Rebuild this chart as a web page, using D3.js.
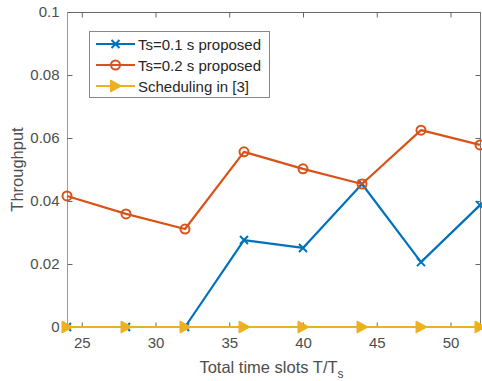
<!DOCTYPE html>
<html><head><meta charset="utf-8">
<script src="https://cdn.jsdelivr.net/npm/d3@7"></script>
<style>body{margin:0;background:#fff}svg{display:block;font-family:"Liberation Sans",Arial,sans-serif}</style>
</head><body><svg id="c" width="482" height="381"></svg>
<script>
const slots = [24, 28, 32, 36, 40, 44, 48, 52];
const ts01 = [0, 0, 0, 0.0276, 0.0251, 0.0454, 0.0206, 0.0387];
const ts02 = [0.0416, 0.0359, 0.0311, 0.0556, 0.0502, 0.0454, 0.0625, 0.0578];
const sched3 = [0, 0, 0, 0, 0, 0, 0, 0];
const seriesNames = ["Ts=0.1 s proposed", "Ts=0.2 s proposed", "Scheduling in [3]"];
const xTicks = [25, 30, 35, 40, 45, 50];
const yTicks = [0, 0.02, 0.04, 0.06, 0.08, 0.1];
const yTickLabels = ["0", "0.02", "0.04", "0.06", "0.08", "0.1"];

const svg = d3.select("#c");
const L = 67, R = 480, T = 12, B = 327;
const x = d3.scaleLinear().domain([24, 52]).range([L, R]);
const y = d3.scaleLinear().domain([0, 0.1]).range([B, T]);
const tickCol = "#4d4d4d";

svg.append("line").attr("x1", L).attr("x2", R).attr("y1", T+0.5).attr("y2", T+0.5).attr("stroke", "#666");
svg.append("line").attr("x1", R+0.5).attr("x2", R+0.5).attr("y1", T).attr("y2", B).attr("stroke", "#777");
svg.append("line").attr("x1", L+0.5).attr("x2", L+0.5).attr("y1", T).attr("y2", B).attr("stroke", "#999");
svg.append("line").attr("x1", L).attr("x2", R).attr("y1", B+0.5).attr("y2", B+0.5).attr("stroke", "#777");

const xAxis = svg.append("g").attr("transform", `translate(0,${B+0.5})`)
  .call(d3.axisBottom(x).tickValues(xTicks).tickSize(-5).tickPadding(10).tickFormat(d3.format("d")));
const xAxisTop = svg.append("g").attr("transform", `translate(0,${T+0.5})`)
  .call(d3.axisTop(x).tickValues(xTicks).tickSize(-5).tickFormat(""));
const yAxis = svg.append("g").attr("transform", `translate(${L+0.5},0)`)
  .call(d3.axisLeft(y).tickValues(yTicks).tickSize(-5).tickPadding(8).tickFormat((d,i)=>yTickLabels[i]));
const yAxisR = svg.append("g").attr("transform", `translate(${R+0.5},0)`)
  .call(d3.axisRight(y).tickValues(yTicks).tickSize(-5).tickFormat(""));
[xAxis, xAxisTop, yAxis, yAxisR].forEach(g => {
  g.select(".domain").remove();
  g.selectAll(".tick line").attr("stroke", "#666");
  g.selectAll("text").attr("fill", tickCol).style("font-size", "15px").style("font-family", "Liberation Sans, Arial, sans-serif");
});

svg.append("text").attr("transform", `translate(23,${(T+B)/2}) rotate(-90)`).attr("text-anchor", "middle")
  .attr("fill", tickCol).style("font-size", "16.5px").text("Throughput");
const xl = svg.append("text").attr("x", (L+R)/2 - 2).attr("y", 373).attr("text-anchor", "middle")
  .attr("fill", tickCol).style("font-size", "16.5px");
xl.append("tspan").text("Total time slots T/T");
xl.append("tspan").attr("dy", 5).style("font-size", "12px").text("s");

const colors = ["#0072BD", "#D95319", "#EDB120"];
const data = [ts01, ts02, sched3];
const line = d3.line().x((d,i)=>x(slots[i])).y(d=>y(d));

function marker(g, k, cx, cy) {
  if (k === 0) {
    const s = 4;
    g.append("path").attr("d", `M${cx-s},${cy-s}L${cx+s},${cy+s}M${cx-s},${cy+s}L${cx+s},${cy-s}`)
      .attr("stroke", colors[0]).attr("stroke-width", 2).attr("fill", "none");
  } else if (k === 1) {
    g.append("circle").attr("cx", cx).attr("cy", cy).attr("r", 4.5)
      .attr("stroke", colors[1]).attr("stroke-width", 2).attr("fill", "none");
  } else {
    g.append("path").attr("d", `M${cx-5},${cy-6}L${cx+6},${cy}L${cx-5},${cy+6}Z`)
      .attr("fill", colors[2]).attr("stroke", colors[2]).attr("stroke-width", 1);
  }
}

data.forEach((vals, k) => {
  const g = svg.append("g");
  g.append("path").datum(vals).attr("d", line).attr("fill", "none")
    .attr("stroke", colors[k]).attr("stroke-width", 2.2).attr("stroke-linejoin", "round");
  vals.forEach((v, i) => marker(g, k, x(slots[i]), y(v)));
});

const lg = svg.append("g");
lg.append("rect").attr("x", 89.5).attr("y", 31.5).attr("width", 180).attr("height", 66)
  .attr("fill", "#fff").attr("stroke", "#888").attr("stroke-width", 1);
seriesNames.forEach((name, k) => {
  const cy = 44 + k * 21;
  lg.append("line").attr("x1", 96).attr("x2", 135).attr("y1", cy).attr("y2", cy)
    .attr("stroke", colors[k]).attr("stroke-width", 2.2);
  marker(lg, k, 115.5, cy);
  lg.append("text").attr("x", 138).attr("y", cy + 5.5).attr("fill", "#262626")
    .style("font-size", "15px").text(name);
});
</script></body></html>
